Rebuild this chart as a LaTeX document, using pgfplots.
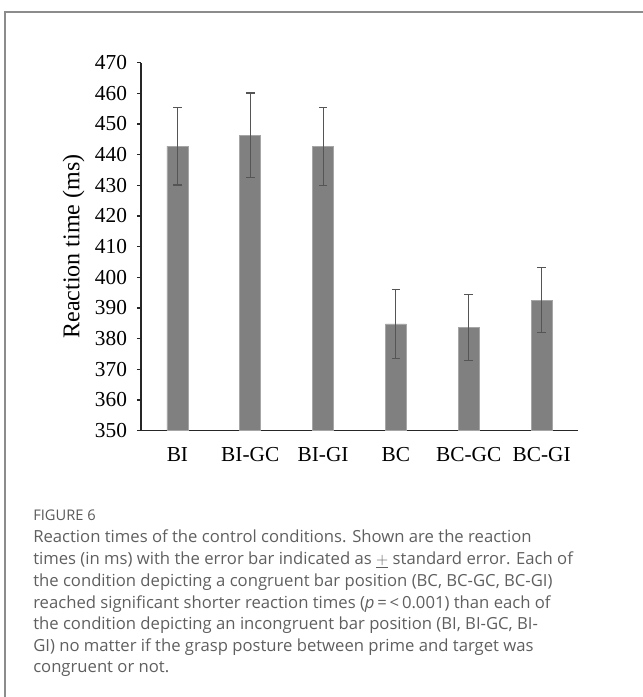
\documentclass[border=0pt]{standalone}
\usepackage{fontspec}
\setmainfont{Liberation Serif}
\newfontfamily\capfont{Open Sans}
\usepackage{pgfplots}
\usepackage{pgfplotstable}
\pgfplotsset{compat=1.18}
\definecolor{bargray}{RGB}{128,128,128}
\definecolor{errgray}{RGB}{85,85,85}
\definecolor{capgray}{RGB}{95,95,95}
\definecolor{boxgray}{RGB}{140,140,140}

\pgfplotstableread{
x y err
0 442.8 12.7
1 446.3 13.8
2 442.6 12.7
3 384.8 11.3
4 383.7 10.8
5 392.6 10.6
}\datatable

\begin{document}
\begin{tikzpicture}
\useasboundingbox (0,0) rectangle (482.25pt,522.75pt);
\draw[boxgray, line width=0.9pt] (3.75pt,-5pt) -- (3.75pt,513.75pt) -- (490pt,513.75pt);
\begin{axis}[
  at={(105.75pt,199.75pt)}, anchor=south west,
  scale only axis, width=327.75pt, height=276pt,
  xmin=-0.5, xmax=5.5, ymin=350, ymax=470,
  axis x line*=bottom, axis y line*=left,
  axis line style={black!85, line width=0.8pt, -},
  xtick={0,1,2,3,4,5},
  xticklabels={BI,BI-GC,BI-GI,BC,BC-GC,BC-GI},
  x tick style={draw=none},
  ytick={350,360,...,470},
  tick align=outside,
  y tick style={black!85, line width=0.8pt},
  major tick length=3pt,
  tick label style={font=\fontsize{16}{19}\selectfont},
  yticklabel style={xshift=-4pt},
  xticklabel style={yshift=-6pt},
  /pgf/number format/assume math mode=true,
  ylabel={Reaction time (ms)},
  ylabel style={font=\fontsize{18}{21}\selectfont, yshift=1pt},
  clip=false,
]
\addplot[ybar, bar width=15.75pt, fill=bargray, draw=bargray!70!white, line width=0.4pt,
  error bars/.cd, y dir=both, y explicit,
  error bar style={errgray, line width=0.8pt},
  error mark options={rotate=90, mark size=3.2pt, errgray, line width=0.8pt}]
  table[x=x, y=y, y error=err]{\datatable};
\end{axis}
\begin{scope}[every node/.style={anchor=base west, inner sep=0pt, text=capgray}]
\node[font=\capfont\fontsize{11}{13}\selectfont, text=black!65] at (24.75pt,132pt) {FIGURE 6};
\node[font=\capfont\fontsize{12.5}{15}\selectfont] at (24.75pt,115.5pt) {Reaction times of the control conditions. Shown are the reaction};
\node[font=\capfont\fontsize{12.5}{15}\selectfont] at (24.75pt,99.25pt) {times (in ms) with the error bar indicated as $\underline{+}$ standard error. Each of};
\node[font=\capfont\fontsize{12.5}{15}\selectfont] at (24.75pt,83pt) {the condition depicting a congruent bar position (BC, BC-GC, BC-GI)};
\node[font=\capfont\fontsize{12.5}{15}\selectfont] at (24.75pt,66.75pt) {reached significant shorter reaction times (\textit{p}\,=\,<\,0.001) than each of};
\node[font=\capfont\fontsize{12.5}{15}\selectfont] at (24.75pt,50.5pt) {the condition depicting an incongruent bar position (BI, BI-GC, BI-};
\node[font=\capfont\fontsize{12.5}{15}\selectfont] at (24.75pt,34.25pt) {GI) no matter if the grasp posture between prime and target was};
\node[font=\capfont\fontsize{12.5}{15}\selectfont] at (24.75pt,18pt) {congruent or not.};
\end{scope}
\end{tikzpicture}
\end{document}
